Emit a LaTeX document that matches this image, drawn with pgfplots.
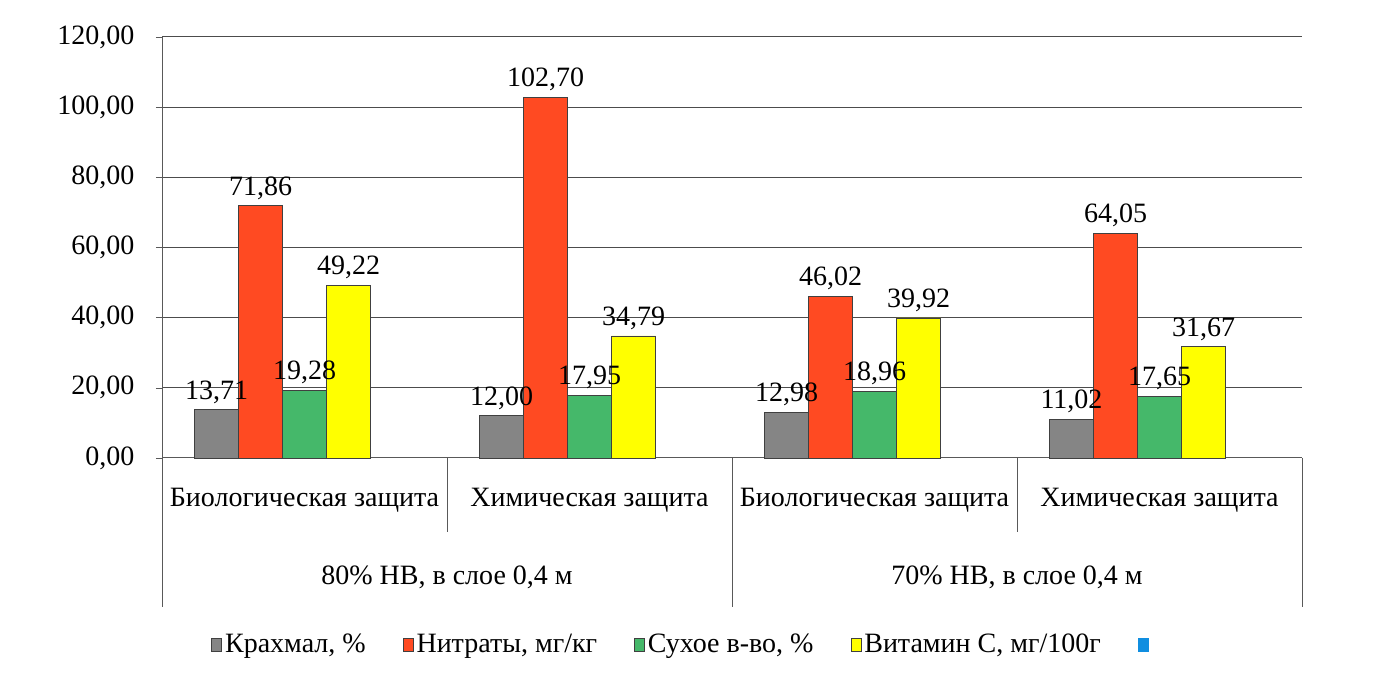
\documentclass[border=0pt]{standalone}
\usepackage{fontspec}
\setmainfont{Liberation Serif}
\usepackage{pgfplots}
\pgfplotsset{compat=1.18}
\definecolor{cgray}{HTML}{858585}
\definecolor{cred}{HTML}{FF4A22}
\definecolor{cgreen}{HTML}{45B86A}
\definecolor{cyellow}{HTML}{FFFF00}
\definecolor{cblue}{HTML}{108EE0}
\pgfplotsset{
  mybar/.style={ybar, bar width=22pt, draw=black!75, line width=0.4pt,
    legend image code/.code={\draw[##1, line width=0.4pt] (0pt,-3pt) rectangle (5pt,3.5pt);}},
}
\begin{document}
\fontsize{14}{17}\selectfont
\begin{tikzpicture}
\begin{axis}[
  scale only axis, width=570pt, height=210.5pt,
  xmin=-0.5, xmax=3.5, ymin=0, ymax=120,
  axis x line*=bottom, axis y line*=left,
  axis line style={black!65, line width=0.5pt},
  xtick=\empty,
  ytick={0,20,40,60,80,100,120},
  tick align=outside, major tick length=3pt,
  ytick style={black!65},
  ymajorgrids, grid style={black!70, line width=0.5pt},
  /pgf/number format/fixed,
  /pgf/number format/fixed zerofill,
  /pgf/number format/precision=2,
  /pgf/number format/use comma,
  /pgf/number format/assume math mode=true,
  yticklabel style={xshift=-6pt},
  nodes near coords,
  every node near coord/.append style={font=\fontsize{14}{17}\selectfont, black, inner sep=3pt},
  clip=false,
  legend columns=5,
  legend style={draw=none, fill=none, at={(0.457,-0.444)}, anchor=center,
    font=\fontsize{14}{17}\selectfont,
    nodes={inner sep=1.5pt},
    /tikz/every even column/.append style={column sep=17pt}},
]
\addplot[mybar, fill=cgray, bar shift=-44pt, every node near coord/.append style={xshift=-44pt}] coordinates {(0,13.71) (1,12.00) (2,12.98) (3,11.02)};
\addlegendentry{Крахмал, \%}
\addplot[mybar, fill=cred, bar shift=-22pt, every node near coord/.append style={xshift=-22pt}] coordinates {(0,71.86) (1,102.70) (2,46.02) (3,64.05)};
\addlegendentry{Нитраты, мг/кг}
\addplot[mybar, fill=cgreen, bar shift=0pt] coordinates {(0,19.28) (1,17.95) (2,18.96) (3,17.65)};
\addlegendentry{Сухое в-во, \%}
\addplot[mybar, fill=cyellow, bar shift=22pt, every node near coord/.append style={xshift=22pt}] coordinates {(0,49.22) (1,34.79) (2,39.92) (3,31.67)};
\addlegendentry{Витамин С, мг/100г}
\addlegendimage{legend image code/.code={\draw[fill=cblue, draw=cblue] (0pt,-3pt) rectangle (5pt,3.5pt);}}
\addlegendentry{}
\coordinate (bbsw) at (rel axis cs:0,0);
\draw[black!65, line width=0.5pt] (axis cs:-0.5,0) -- ([yshift=-74.5pt]axis cs:-0.5,0);
\draw[black!65, line width=0.5pt] (axis cs:1.5,0) -- ([yshift=-74.5pt]axis cs:1.5,0);
\draw[black!65, line width=0.5pt] (axis cs:3.5,0) -- ([yshift=-74.5pt]axis cs:3.5,0);
\draw[black!65, line width=0.5pt] (axis cs:0.5,0) -- ([yshift=-37pt]axis cs:0.5,0);
\draw[black!65, line width=0.5pt] (axis cs:2.5,0) -- ([yshift=-37pt]axis cs:2.5,0);
\node at ([yshift=-21pt]axis cs:0,0) {Биологическая защита};
\node at ([yshift=-21pt]axis cs:1,0) {Химическая защита};
\node at ([yshift=-21pt]axis cs:2,0) {Биологическая защита};
\node at ([yshift=-21pt]axis cs:3,0) {Химическая защита};
\node at ([yshift=-59.5pt]axis cs:0.5,0) {80\% НВ, в слое 0,4 м};
\node at ([yshift=-59.5pt]axis cs:2.5,0) {70\% НВ, в слое 0,4 м};
\end{axis}
\pgfresetboundingbox
\path[use as bounding box] ([shift={(-81pt,-115.5pt)}]bbsw) rectangle ([shift={(606pt,229pt)}]bbsw);
\end{tikzpicture}
\end{document}
